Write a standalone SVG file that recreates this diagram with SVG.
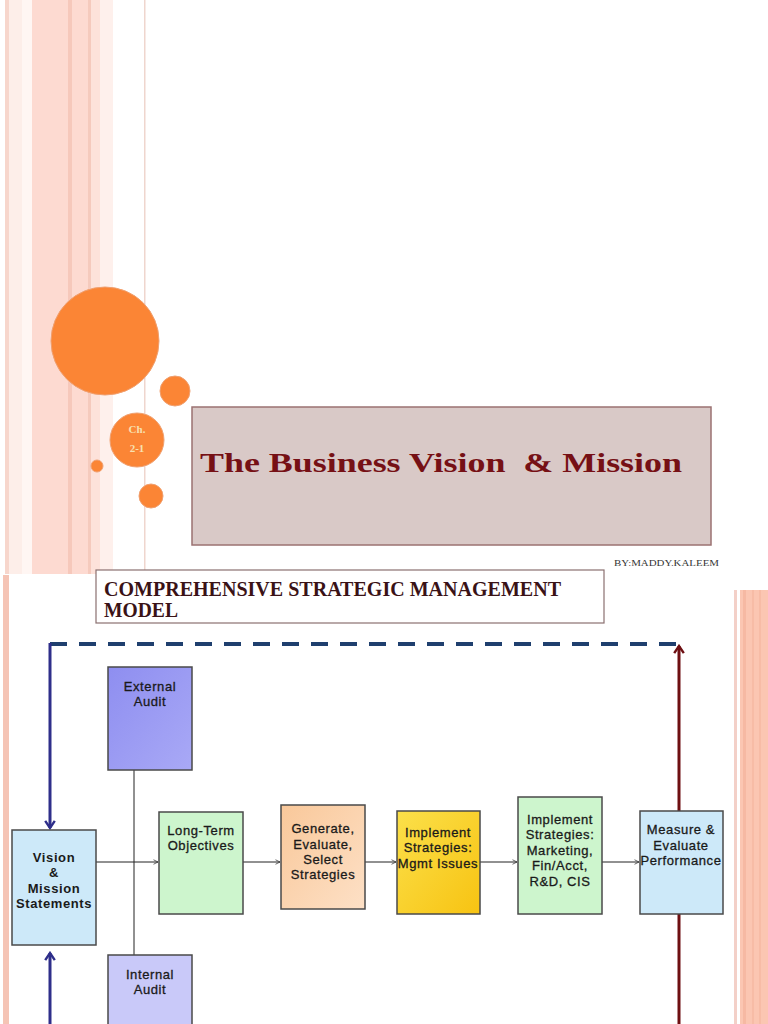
<svg xmlns="http://www.w3.org/2000/svg" width="768" height="1024" viewBox="0 0 768 1024">
<defs>
<style>
.lbl{font-family:"Liberation Sans",Arial,sans-serif;font-size:13px;fill:#1a1a1a;stroke:#1a1a1a;stroke-width:0.3px;text-anchor:middle;letter-spacing:0.6px}
.b{font-weight:bold;stroke-width:0}
.box{stroke:#4a4a4a;stroke-width:1.5}
.thin{stroke:#222;stroke-width:1;fill:none}
.orb{fill:#fb8535;stroke:#f0a070;stroke-width:1}
</style>
<linearGradient id="gExt" x1="0" y1="0" x2="1" y2="1"><stop offset="0" stop-color="#8e8ef0"/><stop offset="1" stop-color="#a9a9f6"/></linearGradient>
<linearGradient id="gGen" x1="0" y1="0" x2="1" y2="1"><stop offset="0" stop-color="#f9c89a"/><stop offset="1" stop-color="#fde0c6"/></linearGradient>
<linearGradient id="gImp" x1="0" y1="0" x2="1" y2="1"><stop offset="0" stop-color="#fbe04a"/><stop offset="1" stop-color="#f7c312"/></linearGradient>
<marker id="sm" viewBox="0 0 8 8" refX="7" refY="4" markerWidth="6" markerHeight="6" orient="auto" markerUnits="userSpaceOnUse"><path d="M1,1 L7,4 L1,7" fill="none" stroke="#333" stroke-width="1"/></marker>
<marker id="bl" viewBox="0 0 10 10" refX="8" refY="5" markerWidth="12" markerHeight="12" orient="auto" markerUnits="userSpaceOnUse"><path d="M2,1 L8,5 L2,9" fill="none" stroke="#2e2e8a" stroke-width="2"/></marker>
<marker id="rd" viewBox="0 0 10 10" refX="8" refY="5" markerWidth="12" markerHeight="12" orient="auto" markerUnits="userSpaceOnUse"><path d="M2,1 L8,5 L2,9" fill="none" stroke="#6e0f12" stroke-width="2"/></marker>
</defs>
<rect width="768" height="1024" fill="#ffffff"/>

<!-- top slide decoration -->
<g id="top-stripes">
<rect x="5" y="0" width="4" height="574" fill="#f7d6cc"/>
<rect x="9" y="0" width="13" height="574" fill="#fdeee9"/>
<rect x="22" y="0" width="10" height="574" fill="#fff6f3"/>
<rect x="32" y="0" width="36" height="574" fill="#fddad1"/>
<rect x="68" y="0" width="4" height="574" fill="#f6c8bb"/>
<rect x="72" y="0" width="16" height="574" fill="#fddad1"/>
<rect x="88" y="0" width="3" height="574" fill="#f5cabd"/>
<rect x="91" y="0" width="9" height="574" fill="#fde2da"/>
<rect x="100" y="0" width="13" height="574" fill="#fef0ec"/>
<rect x="144" y="0" width="1.5" height="574" fill="#efd6ce"/>
</g>
<g id="orbs">
<circle class="orb" cx="105" cy="341" r="54"/>
<circle class="orb" cx="175" cy="391" r="15"/>
<circle class="orb" cx="137" cy="440" r="27"/>
<circle class="orb" cx="97" cy="466" r="6"/>
<circle class="orb" cx="151" cy="496" r="12"/>
<text x="137" y="433" font-family="'Liberation Serif',serif" font-size="11" font-weight="bold" fill="#f8e0b0" text-anchor="middle">Ch.</text>
<text x="137" y="452" font-family="'Liberation Serif',serif" font-size="11" font-weight="bold" fill="#f8e0b0" text-anchor="middle">2-1</text>
</g>
<g id="title">
<rect x="192" y="407" width="519" height="138" fill="#d9c9c7" stroke="#9b7272" stroke-width="1.5"/>
<text x="200" y="472" xml:space="preserve" font-family="'Liberation Serif',serif" font-size="28" font-weight="bold" fill="#761015" textLength="482" lengthAdjust="spacingAndGlyphs">The Business Vision  &amp; Mission</text>
</g>
<text x="614" y="566" font-family="'Liberation Serif',serif" font-size="8.5" fill="#333" textLength="105" lengthAdjust="spacingAndGlyphs">BY:MADDY.KALEEM</text>

<!-- bottom slide decoration -->
<g id="bottom-stripes">
<rect x="3" y="575" width="6" height="449" fill="#f5c4b5"/>
<rect x="734" y="590" width="3" height="434" fill="#f3d0c8"/>
<rect x="740" y="590" width="28" height="434" fill="#fbc6b2"/>
<rect x="743" y="590" width="3" height="434" fill="#f6b9a3"/>
<rect x="752" y="590" width="2" height="434" fill="#f7bca6"/>
<rect x="759" y="590" width="2" height="434" fill="#f7bca6"/>
</g>
<g id="heading">
<rect x="96" y="570" width="508" height="53" fill="#ffffff" stroke="#8a7070" stroke-width="1.2"/>
<text x="104" y="596" font-family="'Liberation Serif',serif" font-size="20.5" font-weight="bold" fill="#3a1216" textLength="457" lengthAdjust="spacingAndGlyphs">COMPREHENSIVE STRATEGIC MANAGEMENT</text>
<text x="104" y="617" font-family="'Liberation Serif',serif" font-size="20.5" font-weight="bold" fill="#3a1216" textLength="74" lengthAdjust="spacingAndGlyphs">MODEL</text>
</g>

<!-- connectors -->
<g id="connectors">
<line x1="50" y1="644" x2="678" y2="644" stroke="#1f3f6e" stroke-width="4" stroke-dasharray="17,12"/>
<line x1="50" y1="643" x2="50" y2="828" stroke="#2e2e8a" stroke-width="3" marker-end="url(#bl)"/>
<line x1="50" y1="1024" x2="50" y2="953" stroke="#2e2e8a" stroke-width="3" marker-end="url(#bl)"/>
<line x1="679" y1="1024" x2="679" y2="646" stroke="#6e0f12" stroke-width="3" marker-end="url(#rd)"/>
<line class="thin" x1="134" y1="770" x2="134" y2="955"/>
<line class="thin" x1="96" y1="862" x2="158" y2="862" marker-end="url(#sm)"/>
<line class="thin" x1="243" y1="862" x2="280" y2="862" marker-end="url(#sm)"/>
<line class="thin" x1="365" y1="862" x2="396" y2="862" marker-end="url(#sm)"/>
<line class="thin" x1="480" y1="862" x2="517" y2="862" marker-end="url(#sm)"/>
<line class="thin" x1="602" y1="862" x2="639" y2="862" marker-end="url(#sm)"/>
</g>

<!-- nodes -->
<g id="external-audit">
<rect class="box" x="108" y="667" width="84" height="103" fill="url(#gExt)"/>
<text class="lbl" x="150" y="691">External</text>
<text class="lbl" x="150" y="706">Audit</text>
</g>
<g id="internal-audit">
<rect class="box" x="108" y="955" width="84" height="80" fill="#c9c9f9"/>
<text class="lbl" x="150" y="979">Internal</text>
<text class="lbl" x="150" y="994">Audit</text>
</g>
<g id="vision-mission">
<rect class="box" x="12" y="830" width="84" height="115" fill="#cde9f9"/>
<text class="lbl b" x="54" y="862">Vision</text>
<text class="lbl b" x="54" y="877">&amp;</text>
<text class="lbl b" x="54" y="893">Mission</text>
<text class="lbl b" x="54" y="908">Statements</text>
</g>
<g id="long-term">
<rect class="box" x="159" y="812" width="84" height="102" fill="#cdf5cd"/>
<text class="lbl" x="201" y="835">Long-Term</text>
<text class="lbl" x="201" y="850">Objectives</text>
</g>
<g id="generate">
<rect class="box" x="281" y="805" width="84" height="104" fill="url(#gGen)"/>
<text class="lbl" x="323" y="833">Generate,</text>
<text class="lbl" x="323" y="849">Evaluate,</text>
<text class="lbl" x="323" y="864">Select</text>
<text class="lbl" x="323" y="879">Strategies</text>
</g>
<g id="implement-mgmt">
<rect class="box" x="397" y="811" width="83" height="103" fill="url(#gImp)"/>
<text class="lbl" x="438" y="837">Implement</text>
<text class="lbl" x="438" y="852">Strategies:</text>
<text class="lbl" x="438" y="868">Mgmt Issues</text>
</g>
<g id="implement-functional">
<rect class="box" x="518" y="797" width="84" height="117" fill="#cdf5cd"/>
<text class="lbl" x="560" y="824">Implement</text>
<text class="lbl" x="560" y="839">Strategies:</text>
<text class="lbl" x="560" y="855">Marketing,</text>
<text class="lbl" x="560" y="870">Fin/Acct,</text>
<text class="lbl" x="560" y="886">R&amp;D, CIS</text>
</g>
<g id="measure">
<rect class="box" x="640" y="811" width="83" height="103" fill="#cde9f9"/>
<text class="lbl" x="681" y="834">Measure &amp;</text>
<text class="lbl" x="681" y="850">Evaluate</text>
<text class="lbl" x="681" y="865">Performance</text>
</g>
</svg>
